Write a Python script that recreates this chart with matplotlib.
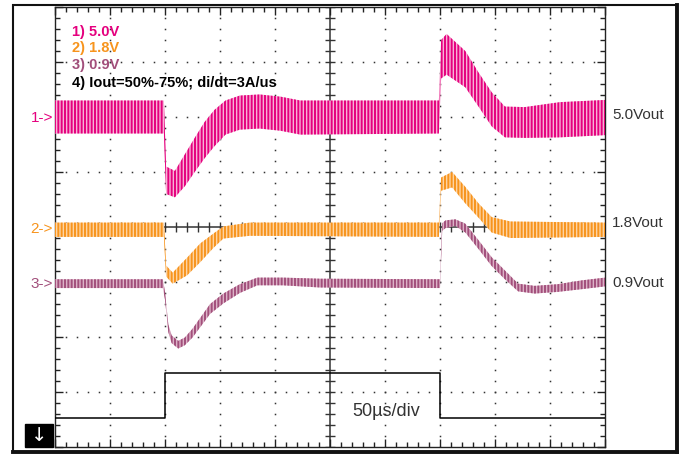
import numpy as np
import matplotlib
matplotlib.use("Agg")
import matplotlib.pyplot as plt
from matplotlib.patches import Rectangle
from matplotlib.lines import Line2D

plt.rcParams['font.family'] = ['Liberation Sans', 'DejaVu Sans']
plt.rcParams['hatch.linewidth'] = 1.4

# time in us (50 us/div), amplitude in divisions from screen centre
t1 = [0, 99, 101, 109, 118, 127, 136, 145, 155, 168, 186, 205, 223, 349, 351, 356, 373, 385, 397, 409, 427, 459, 500]
c1 = [2.0, 2.0, 0.85, 0.78, 1.03, 1.31, 1.58, 1.80, 1.99, 2.08, 2.10, 2.06, 1.99, 2.0, 3.05, 3.14, 2.87, 2.50, 2.14, 1.91, 1.90, 1.95, 1.99]
a1 = [0.30, 0.30, 0.25, 0.24, 0.29, 0.31, 0.33, 0.33, 0.31, 0.31, 0.31, 0.31, 0.31, 0.30, 0.35, 0.37, 0.33, 0.31, 0.31, 0.28, 0.28, 0.32, 0.32]

t2 = [0, 99, 101, 107, 120, 132, 144, 153, 177, 349, 351, 361, 373, 385, 397, 414, 500]
c2 = [-0.05, -0.05, -0.80, -0.93, -0.72, -0.47, -0.25, -0.10, -0.04, -0.05, 0.78, 0.86, 0.58, 0.30, 0.04, -0.05, -0.05]
a2 = [0.13, 0.13, 0.10, 0.10, 0.16, 0.17, 0.13, 0.11, 0.12, 0.13, 0.12, 0.14, 0.15, 0.13, 0.14, 0.15, 0.13]

t3 = [0, 98, 100, 103, 106, 112, 118, 125, 141, 153, 168, 184, 207, 241, 350, 352, 355, 364, 373, 385, 397, 409, 421, 436, 457, 479, 500]
c3 = [-1.03, -1.03, -1.25, -1.84, -2.04, -2.14, -2.08, -1.93, -1.49, -1.30, -1.12, -0.99, -0.99, -1.02, -1.03, 0.0, 0.05, 0.08, -0.02, -0.32, -0.63, -0.87, -1.10, -1.14, -1.11, -1.05, -1.00]
a3 = [0.08, 0.08, 0.07, 0.07, 0.07, 0.07, 0.07, 0.08, 0.09, 0.09, 0.08, 0.07, 0.07, 0.08, 0.08, 0.07, 0.07, 0.06, 0.08, 0.08, 0.08, 0.08, 0.07, 0.07, 0.07, 0.08, 0.08]

t4 = [0, 100, 350, 500]
i4 = [-3.47, -2.66, -3.47, -3.47]

legend_lines = ["1) 5.0V", "2) 1.8V", "3) 0.9V", "4) Iout=50%-75%; di/dt=3A/us"]
left_marks = ["1->", "2->", "3->"]
right_marks = ["5.0Vout", "1.8Vout", "0.9Vout"]
timebase = "50\u00b5s/div"

magenta, magenta_l = '#e5007e', '#f7b3d6'
orange, orange_l = '#f7941d', '#fdd4a3'
mauve, mauve_l = '#a24f7b', '#dcb3c7'
colors = [magenta, orange, mauve, 'black']

W, H = 681, 454
fig = plt.figure(figsize=(W / 100, H / 100), dpi=100)


def fx(px):
    return px / W


def fy(py):
    return 1 - py / H


# outer frame
fig.add_artist(Rectangle((fx(13), fy(452)), fx(664), 447 / H, fill=False,
                         lw=1.5, ec='#111', transform=fig.transFigure))
fig.add_artist(Line2D([fx(677), fx(677)], [fy(5), fy(452)], lw=2.8, color='#111',
                      transform=fig.transFigure))
fig.add_artist(Line2D([fx(13), fx(677)], [fy(452), fy(452)], lw=2.8, color='#111',
                      transform=fig.transFigure))

ax = fig.add_axes([fx(55), fy(447), 550 / W, 440 / H])
ax.set_xlim(0, 500)
ax.set_ylim(-4, 4)
for s in ax.spines.values():
    s.set_linewidth(1.0)
    s.set_color('#222')
ax.set_xticks(np.arange(0, 501, 50))
ax.set_xticks(np.arange(0, 501, 10), minor=True)
ax.set_yticks(np.arange(-4, 4.01, 1))
ax.set_yticks(np.arange(-4, 4.01, 0.2), minor=True)
ax.tick_params(which='both', direction='in', top=True, right=True,
               labelbottom=False, labelleft=False, color='#222', width=1.0)
ax.tick_params(which='major', length=6)
ax.tick_params(which='minor', length=3.5)

# dotted graticule
gx = [k * 50 for k in range(1, 10) if k != 5]
gy = [k for k in range(-3, 4) if k != 0]
dots_y = np.arange(-4, 4.01, 0.2)
dots_x = np.arange(0, 501, 10)
for x in gx:
    ax.plot(np.full_like(dots_y, x), dots_y, ls='none', marker='s', ms=1.1,
            mew=0, color='#333', zorder=1)
for y in gy:
    ax.plot(dots_x, np.full_like(dots_x, y, dtype=float), ls='none', marker='s',
            ms=1.1, mew=0, color='#333', zorder=1)

# centre cross with ticks
ax.axvline(250, color='#333', lw=1.1, zorder=1)
ax.axhline(0, color='#333', lw=1.1, zorder=1)
ax.vlines(dots_x, -0.09, 0.09, color='#333', lw=1.0, zorder=1)
ax.hlines(dots_y, 250 - 4.5, 250 + 4.5, color='#333', lw=1.0, zorder=1)

# traces: switching ripple drawn as a hatched band between the envelopes
traces = [(t1, c1, a1, magenta, magenta_l), (t2, c2, a2, orange, orange_l),
          (t3, c3, a3, mauve, mauve_l)]
for t, c, a, col, col_l in traces:
    t = np.array(t, dtype=float)
    c = np.array(c)
    a = np.array(a)
    ax.fill_between(t, c - a, c + a, facecolor=col_l, edgecolor=col,
                    hatch='|||||', linewidth=0, zorder=3)

ax.plot(t4, i4, drawstyle='steps-post', color='black', lw=1.1, zorder=3)

# labels
leg_y = [32, 48, 65, 83]
for txt, y, col in zip(legend_lines, leg_y, colors):
    fig.text(fx(72), fy(y), txt, color=col, fontsize=10.5, fontweight='bold',
             va='center', ha='left')

for txt, y, col in zip(left_marks, [118, 229, 284], colors):
    fig.text(fx(53), fy(y), txt, color=col, fontsize=11, va='center', ha='right')

for txt, y in zip(right_marks, [115, 223, 283]):
    fig.text(fx(612), fy(y), txt, color='#333', fontsize=11, va='center', ha='left')

fig.text(fx(352), fy(412), timebase, color='#333', fontsize=13, va='center', ha='left')

# trigger marker box
fig.add_artist(Rectangle((fx(25), fy(447)), 28 / W, 23 / H, facecolor='black',
                         edgecolor='black', transform=fig.transFigure, zorder=5))
fig.text(fx(39), fy(435.5), "\u2193", color='white', fontsize=14,
         ha='center', va='center', family='DejaVu Sans', zorder=6)

fig.savefig('out.png', dpi=100)
